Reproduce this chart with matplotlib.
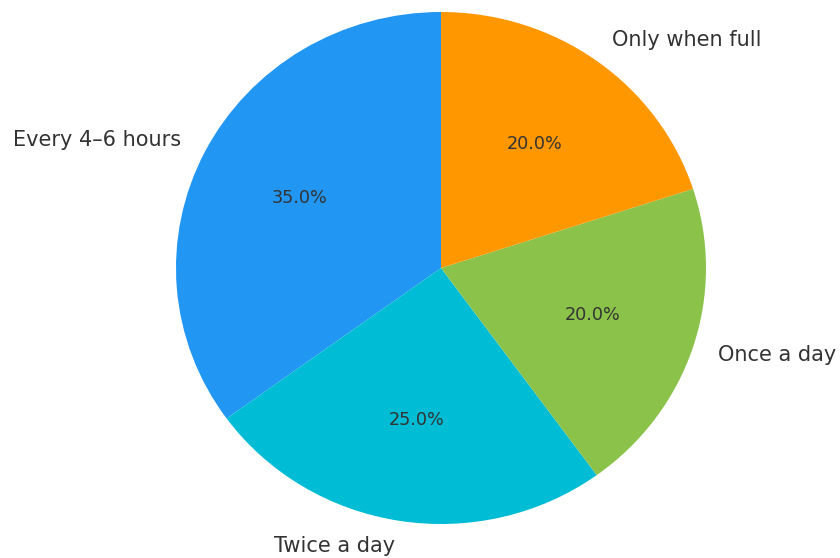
import matplotlib.pyplot as plt

labels = ['Every 4–6 hours', 'Twice a day', 'Once a day', 'Only when full']
shares = [35, 25, 20, 20]
colors = ['#2196F3', '#00BCD4', '#8BC34A', '#FF9800']

fig = plt.figure(figsize=(8.4, 5.58), dpi=100)
ax = fig.add_axes([176 / 840, 34 / 558, 530 / 840, 512 / 558])

wedges, texts, autotexts = ax.pie(shares, labels=labels, colors=colors,
                                  autopct='%1.1f%%', startangle=90,
                                  textprops={'color': '#333333', 'fontsize': 15})
for t in autotexts:
    t.set_fontsize(12.7)
for t in texts + autotexts:
    t.set_clip_on(False)

ax.set_aspect('auto')
ax.set_xlim(-1, 1)
ax.set_ylim(-1, 1)

plt.savefig('out.png', dpi=100)
